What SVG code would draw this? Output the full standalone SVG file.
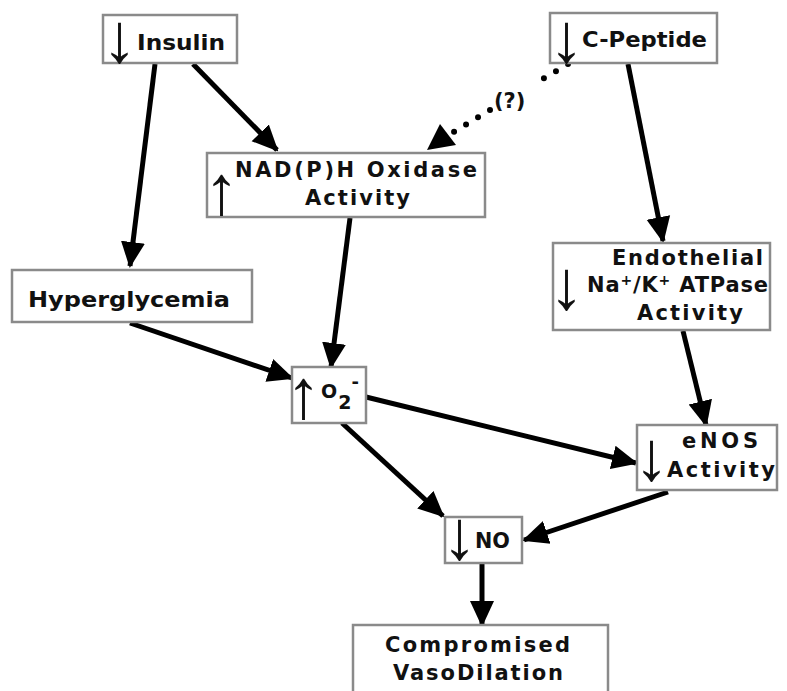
<svg xmlns="http://www.w3.org/2000/svg" width="787" height="691" viewBox="0 0 787 691">
<defs>
<marker id="ah" markerUnits="userSpaceOnUse" markerWidth="26" markerHeight="26" viewBox="0 0 26 26" refX="24" refY="13" orient="auto">
<path d="M0,1 L26,13 L0,25 Z" fill="#000"/>
</marker>
</defs>
<style>
.box{fill:#fff;stroke:#8a8a8a;stroke-width:2.5}
.t{font-family:"DejaVu Sans","Liberation Sans",sans-serif;font-weight:bold;fill:#111;font-size:21px}
.ar{font-family:"Liberation Sans",Arial,sans-serif;fill:#111;font-size:70px;font-weight:normal}
.c{stroke:#000;stroke-width:5;fill:none;marker-end:url(#ah)}
.d{stroke:#000;stroke-width:6;fill:none;stroke-linecap:round;stroke-dasharray:0 14}
</style>
<rect width="787" height="691" fill="#fff"/>
<g id="connectors">
<line class="c" x1="155" y1="64" x2="130" y2="266"/>
<line class="c" x1="193" y1="64" x2="277" y2="150"/>
<line class="d" x1="568" y1="64" x2="536" y2="83"/>
<line class="d" x1="490" y1="110" x2="452" y2="133"/>
<path d="M427,150 L440,124 L456,145 Z" fill="#000"/>
<line class="c" x1="628" y1="64" x2="663" y2="241"/>
<line class="c" x1="350" y1="218" x2="331" y2="367"/>
<line class="c" x1="130" y1="323" x2="292" y2="378"/>
<line class="c" x1="366" y1="397" x2="636" y2="463"/>
<line class="c" x1="683" y1="331" x2="706" y2="425"/>
<line class="c" x1="342" y1="423" x2="443" y2="516"/>
<line class="c" x1="668" y1="492" x2="524" y2="540"/>
<line class="c" x1="482" y1="563" x2="482" y2="625"/>
<text class="t" x="494" y="108" font-size="22">(?)</text>
</g>
<g id="insulin">
<rect class="box" x="103" y="15" width="134" height="48"/>
<text class="ar" x="102" y="62">↓</text>
<text class="t" x="137" y="50" textLength="88" lengthAdjust="spacingAndGlyphs" font-size="24">Insulin</text>
</g>
<g id="cpeptide">
<rect class="box" x="550" y="13" width="167" height="50"/>
<text class="ar" x="549" y="62">↓</text>
<text class="t" x="582" y="47" textLength="125" lengthAdjust="spacingAndGlyphs" font-size="25">C-Peptide</text>
</g>
<g id="nadph">
<rect class="box" x="207" y="153" width="278" height="64"/>
<text class="ar" x="204" y="214">↑</text>
<text class="t" x="235" y="177" textLength="242" lengthAdjust="spacing">NAD(P)H Oxidase</text>
<text class="t" x="305" y="205" textLength="105" lengthAdjust="spacing">Activity</text>
</g>
<g id="hyperglycemia">
<rect class="box" x="12" y="270" width="240" height="52"/>
<text class="t" x="28" y="307" textLength="202" lengthAdjust="spacingAndGlyphs" font-size="24">Hyperglycemia</text>
</g>
<g id="endothelial">
<rect class="box" x="553" y="243" width="217" height="87"/>
<text class="ar" x="549" y="309">↓</text>
<text class="t" x="612" y="265" textLength="151" lengthAdjust="spacing">Endothelial</text>
<text class="t" x="587" y="292" textLength="181" lengthAdjust="spacing">Na<tspan font-size="14" dy="-7">+</tspan><tspan dy="7">/K</tspan><tspan font-size="14" dy="-7">+</tspan><tspan dy="7"> ATPase</tspan></text>
<text class="t" x="637" y="320" textLength="106" lengthAdjust="spacing">Activity</text>
</g>
<g id="o2">
<rect class="box" x="292" y="367" width="74" height="56"/>
<text class="t" x="286" y="418"><tspan class="ar">↑</tspan><tspan dy="-20" font-size="19">O</tspan><tspan dx="1" dy="11" font-size="19">2</tspan><tspan dy="-21" font-size="18">-</tspan></text>
</g>
<g id="enos">
<rect class="box" x="637" y="425" width="140" height="65"/>
<text class="ar" x="634" y="480">↓</text>
<text class="t" x="682" y="448" textLength="76" lengthAdjust="spacing">eNOS</text>
<text class="t" x="667" y="477" textLength="108" lengthAdjust="spacing">Activity</text>
</g>
<g id="no">
<rect class="box" x="445" y="517" width="77" height="46"/>
<text class="ar" x="442" y="559">↓</text>
<text class="t" x="475" y="548" textLength="35" lengthAdjust="spacingAndGlyphs">NO</text>
</g>
<g id="compromised">
<rect class="box" x="353" y="625" width="255" height="70"/>
<text class="t" x="385" y="652" textLength="185" lengthAdjust="spacing">Compromised</text>
<text class="t" x="393" y="680" textLength="170" lengthAdjust="spacing">VasoDilation</text>
</g>
</svg>
